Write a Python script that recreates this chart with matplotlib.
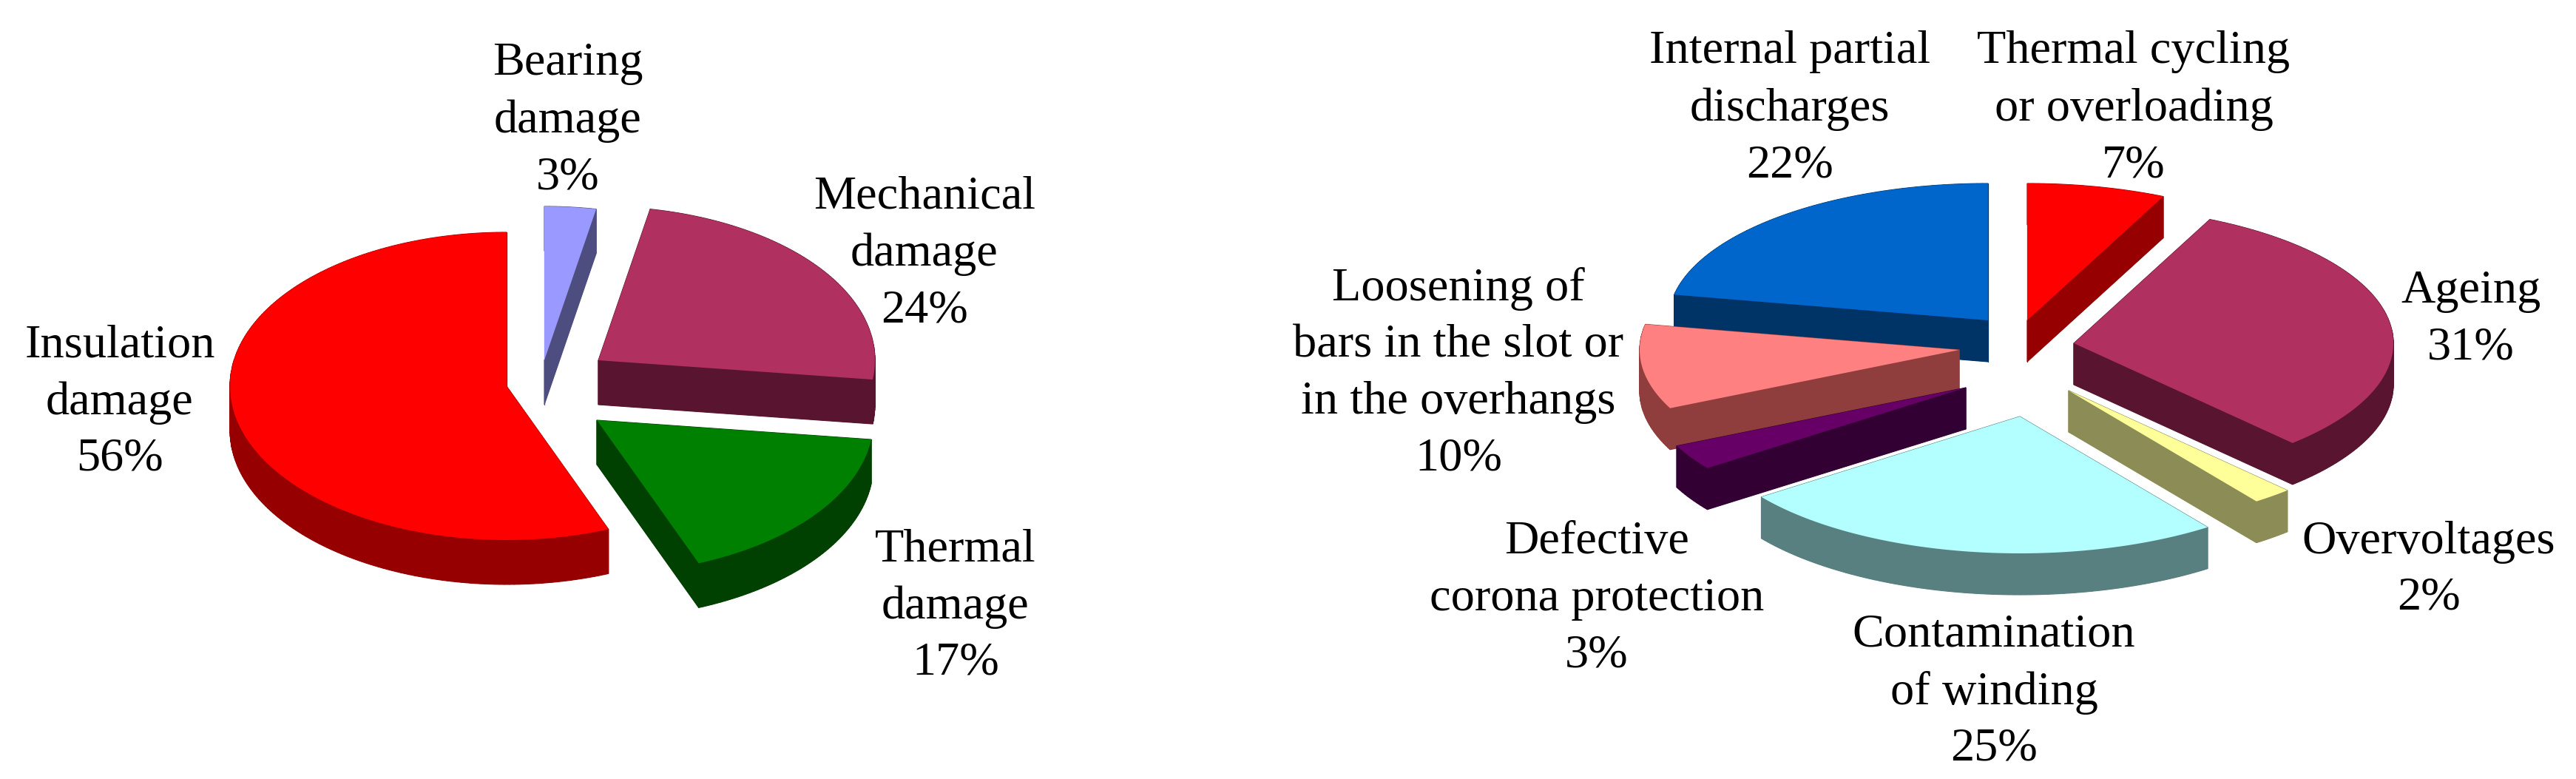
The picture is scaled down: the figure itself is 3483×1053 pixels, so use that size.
import numpy as np
import matplotlib
matplotlib.use("Agg")
import matplotlib.pyplot as plt

plt.rcParams['font.family'] = ['Liberation Serif', 'DejaVu Serif']

# left pie, clockwise from 12 o'clock
left_labels = ["Bearing\ndamage", "Mechanical\ndamage", "Thermal\ndamage", "Insulation\ndamage"]
left_values = [3, 24, 17, 56]

# right pie, clockwise from 12 o'clock
right_labels = ["Thermal cycling\nor overloading", "Ageing", "Overvoltages", "Contamination\nof winding",
                "Defective\ncorona protection", "Loosening of\nbars in the slot or\nin the overhangs",
                "Internal partial\ndischarges"]
right_values = [7, 31, 2, 25, 3, 10, 22]

# layout, all in pixels of the figure. text = centre x, baseline of the last line
left_tops = ['#9999ff', '#b03060', '#008000', '#ff0000']
left_sides = ['#4d4d80', '#59142f', '#004000', '#960000']
left_apex = [(736, 487), (809, 487), (807, 568), (685, 522)]
left_text = [(768, 255), (1250, 435), (1292, 912), (162, 636)]
left_order = [3, 0, 1, 2]

right_tops = ['#ff0000', '#b03060', '#ffff99', '#b3ffff', '#660066', '#ff8080', '#0066cc']
right_sides = ['#960000', '#59142f', '#8c8c57', '#598080', '#330033', '#8f3d3d', '#003366']
right_apex = [(2741, 433), (2804, 464), (2797, 528), (2731, 563), (2658, 524), (2649, 473), (2688, 433)]
right_text = [(2885, 239), (3341, 485), (3284, 824), (2696, 1028), (2159, 901), (1972, 635), (2420, 239)]
right_order = [6, 0, 5, 4, 1, 2, 3]


def wedge_outline(apex, a0, a1, rx, ry):
    t = np.radians(np.linspace(a0, a1, max(int(a1 - a0), 2) + 1))
    xs = apex[0] + rx * np.sin(t)
    ys = apex[1] - ry * np.cos(t)
    return np.r_[apex[0], xs], np.r_[apex[1], ys]


def draw_pie(ax, values, tops, sides, apexes, order, rx, ry, depth):
    edges = np.r_[0, np.cumsum(values)] * 360.0 / np.sum(values)
    for i in order:
        xs, ys = wedge_outline(apexes[i], edges[i], edges[i + 1], rx, ry)
        # side walls: sweep every edge of the slice down by the depth
        ax.fill(xs, ys + depth, color=sides[i], lw=0)
        for k in range(len(xs)):
            j = (k + 1) % len(xs)
            ax.fill([xs[k], xs[j], xs[j], xs[k]],
                    [ys[k], ys[j], ys[j] + depth, ys[k] + depth],
                    color=sides[i], lw=0.8)
        ax.fill(xs, ys, color=tops[i], lw=0)


def draw_labels(ax, labels, values, positions):
    for lab, v, (x, y) in zip(labels, values, positions):
        ax.text(x, y, f"{lab}\n{v}%", ha='center', va='baseline', fontsize=46.3,
                linespacing=1.42, color='black', multialignment='center')


fig = plt.figure(figsize=(34.83, 10.53), dpi=100)
ax = fig.add_axes([0, 0, 1, 1])
ax.set_xlim(0, 3483)
ax.set_ylim(1053, 0)
ax.axis('off')

draw_pie(ax, left_values, left_tops, left_sides, left_apex, left_order, 374, 208, 60)
draw_pie(ax, right_values, right_tops, right_sides, right_apex, right_order, 432, 185, 56)
draw_labels(ax, left_labels, left_values, left_text)
draw_labels(ax, right_labels, right_values, right_text)

fig.savefig('out.png', dpi=100, facecolor='white')
